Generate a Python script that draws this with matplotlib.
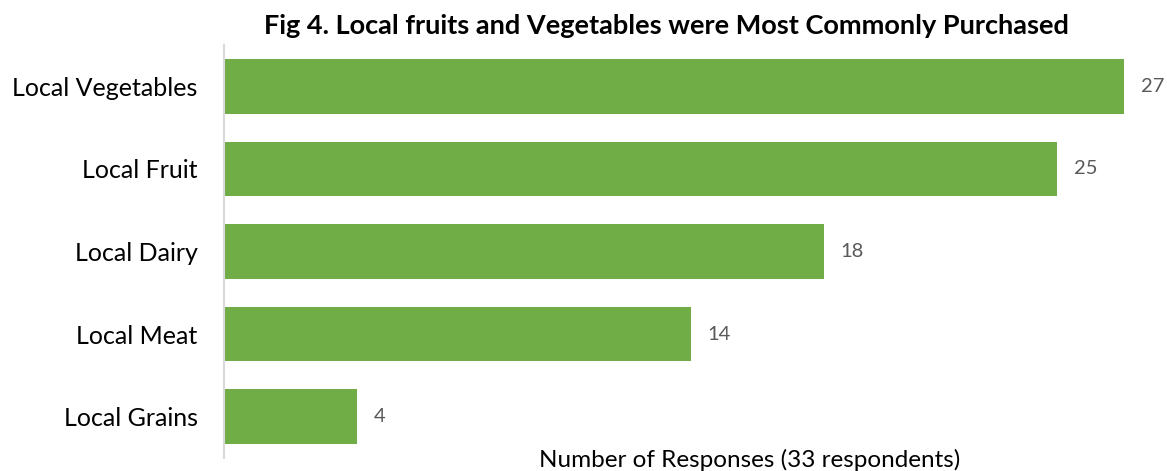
import matplotlib
matplotlib.use('Agg')
import matplotlib.pyplot as plt

categories = ['Local Vegetables', 'Local Fruit', 'Local Dairy', 'Local Meat', 'Local Grains']
responses = [27, 25, 18, 14, 4]

plt.rcParams['font.family'] = ['Lato', 'DejaVu Sans']

fig = plt.figure(figsize=(11.67, 4.71), dpi=100)
ax = fig.add_axes([224 / 1167, 13 / 471, 940 / 1167, 413 / 471])

y = list(range(len(categories)))
ax.barh(y, responses, height=0.66, color='#70AD47')
ax.set_ylim(len(categories) - 0.5, -0.5)
ax.set_xlim(0, 28.2)

for yi, val in zip(y, responses):
    ax.text(val + 0.5, yi, str(val), va='center', ha='left', fontsize=14.5, color='#595959')

ax.set_yticks(y)
ax.set_yticklabels(categories, fontsize=18)
ax.tick_params(axis='y', length=0, pad=19)
ax.set_xticks([])

for side in ['top', 'right', 'bottom']:
    ax.spines[side].set_visible(False)
ax.spines['left'].set_color('#D9D9D9')
ax.spines['left'].set_linewidth(1.5)

fig.text(666 / 1167, 1 - 26 / 471, 'Fig 4. Local fruits and Vegetables were Most Commonly Purchased',
         ha='center', va='center', fontsize=19.5, fontweight='bold')
fig.text(750 / 1167, 1 - 460 / 471, 'Number of Responses (33 respondents)',
         ha='center', va='center', fontsize=17.5)

fig.savefig('out.png', dpi=100)
